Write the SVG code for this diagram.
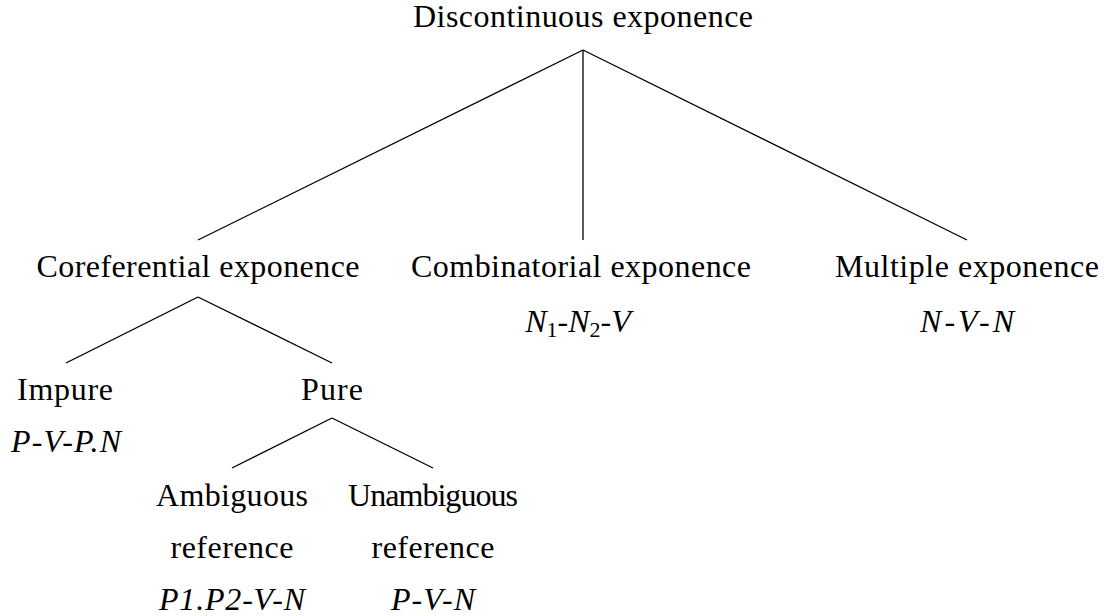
<svg xmlns="http://www.w3.org/2000/svg" width="1104" height="616" viewBox="0 0 1104 616">
<style>
text{font-size:32px;fill:#000;text-anchor:middle}
.it{font-style:italic}
.sub{font-style:normal;font-size:22px}
.edge{stroke:#000;stroke-width:1.3;fill:none}
</style>
<rect width="1104" height="616" fill="#fff"/>
<g id="connectors">
<line class="edge" x1="583" y1="50" x2="198" y2="240"/>
<line class="edge" x1="583" y1="50" x2="583" y2="240"/>
<line class="edge" x1="583" y1="50" x2="967" y2="240"/>
<line class="edge" x1="198" y1="297" x2="66" y2="363"/>
<line class="edge" x1="198" y1="297" x2="332" y2="363"/>
<line class="edge" x1="332" y1="418" x2="232" y2="468"/>
<line class="edge" x1="332" y1="418" x2="433" y2="468"/>
</g>
<g font-family="'Liberation Serif', 'DejaVu Serif', serif">
<g id="root"><text x="583" y="27" textLength="340" lengthAdjust="spacing">Discontinuous exponence</text></g>
<g id="coreferential"><text x="198" y="277" textLength="323" lengthAdjust="spacing">Coreferential exponence</text></g>
<g id="combinatorial">
<text x="581" y="277" textLength="340" lengthAdjust="spacing">Combinatorial exponence</text>
<text x="578" y="332" class="it"><tspan>N</tspan><tspan class="sub" dy="5">1</tspan><tspan dy="-5">-N</tspan><tspan class="sub" dy="5">2</tspan><tspan dy="-5">-V</tspan></text>
</g>
<g id="multiple">
<text x="967" y="277" textLength="264" lengthAdjust="spacing">Multiple exponence</text>
<text x="967" y="332" class="it" textLength="94" lengthAdjust="spacing">N-V-N</text>
</g>
<g id="impure">
<text x="65" y="400" textLength="96" lengthAdjust="spacing">Impure</text>
<text x="66" y="452" class="it" textLength="110" lengthAdjust="spacing">P-V-P.N</text>
</g>
<g id="pure"><text x="332" y="400" textLength="62" lengthAdjust="spacing">Pure</text></g>
<g id="ambiguous">
<text x="232" y="506" textLength="152" lengthAdjust="spacing">Ambiguous</text>
<text x="232" y="558" textLength="123" lengthAdjust="spacing">reference</text>
<text x="232" y="610" class="it" textLength="146" lengthAdjust="spacing">P1.P2-V-N</text>
</g>
<g id="unambiguous">
<text x="433" y="506" textLength="170" lengthAdjust="spacing">Unambiguous</text>
<text x="433" y="558" textLength="123" lengthAdjust="spacing">reference</text>
<text x="433" y="610" class="it" textLength="84" lengthAdjust="spacing">P-V-N</text>
</g>
</g>
</svg>
